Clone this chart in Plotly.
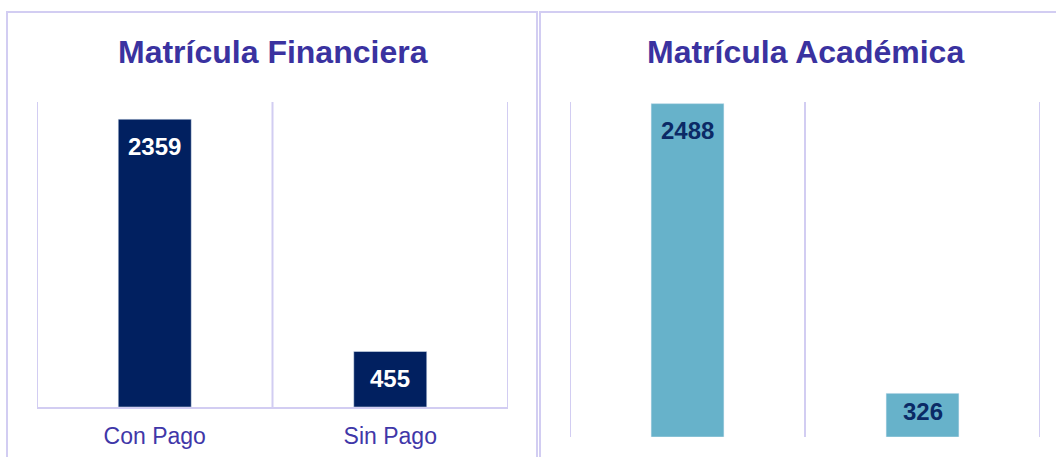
import plotly.graph_objects as go

# ---- data ----
categories = ["Con Pago", "Sin Pago"]
fin_values = [2359, 455]
acad_values = [2488, 326]
fin_title = "Matrícula Financiera"
acad_title = "Matrícula Académica"

# ---- style ----
W, H = 1056, 457
FONT = "Arial, Liberation Sans, sans-serif"
TITLE_C = "#3A32A0"
TICK_C = "#3F37A8"
GRID_C = "#D2CDF2"
NAVY = "#012060"
LIGHT = "#67B2CA"
YMAX = 2500


def px_x(p):
    return p / W


def px_y(p):
    return (H - p) / H


L_DOM_X = [px_x(37), px_x(508)]
L_DOM_Y = [px_y(407), px_y(102)]
R_DOM_X = [px_x(570), px_x(1040)]
R_DOM_Y = [px_y(437), px_y(102)]

fig = go.Figure()
fig.add_trace(go.Bar(x=categories, y=fin_values, marker_color=NAVY, width=0.31,
                     xaxis="x", yaxis="y", hoverinfo="skip"))
fig.add_trace(go.Bar(x=categories, y=acad_values, marker_color=LIGHT, width=0.31,
                     xaxis="x2", yaxis="y2", hoverinfo="skip"))

annotations = []
shapes = []


def labels(values, xref, yref, dom_y, color):
    plot_h = (dom_y[1] - dom_y[0]) * H
    for c, v in zip(categories, values):
        bar_px = v / YMAX * plot_h
        shift = min(27, bar_px - 26)
        annotations.append(dict(x=c, y=v, xref=xref, yref=yref, text=f"<b>{v}</b>",
                                showarrow=False, xanchor="center", yanchor="middle", yshift=-shift,
                                font=dict(family=FONT, size=24, color=color)))


labels(fin_values, "x", "y", L_DOM_Y, "#FFFFFF")
labels(acad_values, "x2", "y2", R_DOM_Y, "#0B2A66")

# category boundary gridlines
for xr, yr in (("x", "y domain"), ("x2", "y2 domain")):
    for b in (-0.5, 0.5, 1.5):
        shapes.append(dict(type="line", xref=xr, yref=yr, x0=b, x1=b, y0=0, y1=1,
                           line=dict(color=GRID_C, width=2), layer="below"))

# panel borders
shapes.append(dict(type="rect", xref="paper", yref="paper", x0=px_x(7), x1=px_x(537),
                   y0=-0.2, y1=px_y(12), line=dict(color=GRID_C, width=2)))
shapes.append(dict(type="rect", xref="paper", yref="paper", x0=px_x(540), x1=1.1,
                   y0=-0.2, y1=px_y(12), line=dict(color=GRID_C, width=2)))

# titles
for dom, title in ((L_DOM_X, fin_title), (R_DOM_X, acad_title)):
    annotations.append(dict(x=(dom[0] + dom[1]) / 2, y=px_y(52), xref="paper", yref="paper",
                            text=f"<b>{title}</b>", showarrow=False,
                            xanchor="center", yanchor="middle",
                            font=dict(family=FONT, size=32, color=TITLE_C)))

fig.update_layout(
    width=W, height=H,
    margin=dict(l=0, r=0, t=0, b=0),
    paper_bgcolor="white", plot_bgcolor="white",
    showlegend=False,
    annotations=annotations,
    shapes=shapes,
    xaxis=dict(domain=L_DOM_X, anchor="y", type="category", range=[-0.5, 1.5],
               showgrid=False, showline=True, linecolor=GRID_C, linewidth=2,
               ticks="", ticklabelstandoff=7,
               tickfont=dict(family=FONT, size=23, color=TICK_C), fixedrange=True),
    yaxis=dict(domain=L_DOM_Y, anchor="x", range=[0, YMAX], visible=False, fixedrange=True),
    xaxis2=dict(domain=R_DOM_X, anchor="y2", type="category", range=[-0.5, 1.5],
                showgrid=False, showline=False, showticklabels=False, ticks="", fixedrange=True),
    yaxis2=dict(domain=R_DOM_Y, anchor="x2", range=[0, YMAX], visible=False, fixedrange=True),
)

fig.write_html("out.html", config={"displayModeBar": False},
               post_script="document.body.style.margin='0';document.body.style.overflow='hidden';")
